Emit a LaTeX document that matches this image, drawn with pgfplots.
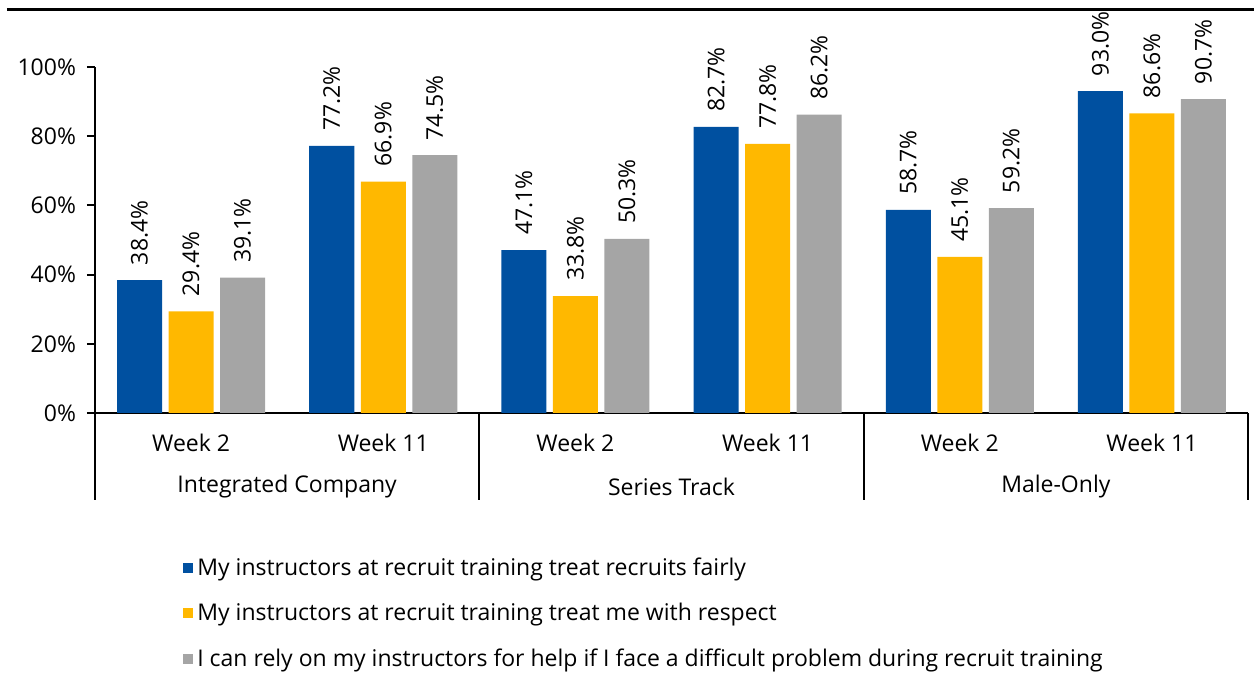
\documentclass[border=0pt]{standalone}
\usepackage{pgfplots}
\pgfplotsset{compat=1.18}
\usepackage{fontspec}
\setmainfont{Open Sans}
\definecolor{cblue}{RGB}{0,80,160}
\definecolor{cyellow}{RGB}{255,184,0}
\definecolor{cgray}{RGB}{165,165,165}
\newcommand{\fs}{\fontsize{11.5}{13}\selectfont}
\begin{document}
\begin{tikzpicture}
\useasboundingbox (-47.5pt,-130pt) rectangle (579.5pt,206.5pt);
\draw[line width=1.5pt] (-44pt,201.5pt) -- (579.5pt,201.5pt);
\begin{axis}[
  scale only axis,
  width=576.5pt, height=173pt,
  xmin=-0.5, xmax=5.5, ymin=0, ymax=100,
  ybar=3.25pt, bar width=22.5pt,
  axis x line*=bottom, axis y line*=left,
  axis line style={line width=1pt, -},
  xtick={0,1,2,3,4,5},
  xticklabels={Week 2,Week 11,Week 2,Week 11,Week 2,Week 11},
  x tick label style={yshift=-3pt},
  major x tick style={draw=none},
  ytick={0,20,40,60,80,100},
  yticklabel={\pgfmathprintnumber[assume math mode=true]{\tick}\%},
  y tick label style={xshift=-2pt},
  tick align=outside,
  major tick length=4pt,
  ytick style={line width=1pt, black},
  tick label style={font=\fs},
  clip=false,
  nodes near coords={\pgfmathprintnumber[fixed,fixed zerofill,precision=1,assume math mode=true]{\pgfplotspointmeta}\%},
  every node near coord/.append style={rotate=90, anchor=west, xshift=4pt, font=\fs, black},
  legend style={at={(0.0763,-0.405)}, anchor=north west, draw=none, fill=none,
    font=\fs, row sep=8.5pt, inner sep=0pt},
  legend cell align=left,
  legend image code/.code={\fill[#1] (0pt,-2.5pt) rectangle (5pt,2.5pt);},
]
\addplot[fill=cblue, draw=none] coordinates {(0,38.4) (1,77.2) (2,47.1) (3,82.7) (4,58.7) (5,93.0)};
\addplot[fill=cyellow, draw=none] coordinates {(0,29.4) (1,66.9) (2,33.8) (3,77.8) (4,45.1) (5,86.6)};
\addplot[fill=cgray, draw=none] coordinates {(0,39.1) (1,74.5) (2,50.3) (3,86.2) (4,59.2) (5,90.7)};
\legend{My instructors at recruit training treat recruits fairly,
My instructors at recruit training treat me with respect,
I can rely on my instructors for help if I face a difficult problem during recruit training}
\foreach \s in {-0.5,1.5,3.5,5.5}{
  \edef\tmp{\noexpand\draw[line width=1pt] (axis cs:\s,0) -- ([yshift=-43.5pt]axis cs:\s,0);}\tmp
}
\node[font=\fs] at ([yshift=-37pt]axis cs:0.5,0) {Integrated Company};
\node[font=\fs] at ([yshift=-37pt]axis cs:2.5,0) {Series Track};
\node[font=\fs] at ([yshift=-37pt]axis cs:4.5,0) {Male-Only};
\end{axis}
\end{tikzpicture}
\end{document}
